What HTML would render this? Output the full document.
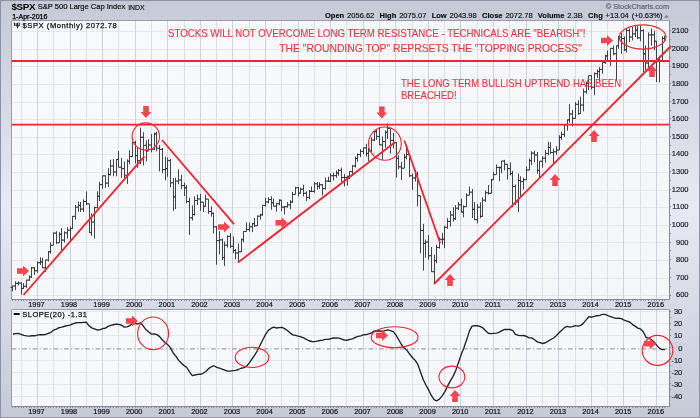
<!DOCTYPE html>
<html><head><meta charset="utf-8"><title>$SPX</title>
<style>
html,body{margin:0;padding:0;background:#ccd0dc;}
body{will-change:transform;width:700px;height:418px;overflow:hidden;position:relative;font-family:"Liberation Sans",sans-serif;color:#16161a;}
svg{position:absolute;left:0;top:0;}
div{position:absolute;white-space:nowrap;line-height:1;}
.yr{width:40px;text-align:center;font-size:7.4px;color:#15151a;-webkit-text-stroke:0.2px #15151a;}
.ax{left:655px;width:33.5px;text-align:right;font-size:7.5px;color:#15151a;-webkit-text-stroke:0.15px #15151a;}
.ax2{left:655px;width:27.3px;}
.t1{left:11.5px;top:2.1px;font-size:9.8px;font-weight:bold;color:#000;letter-spacing:-0.35px}
.t2{left:37.7px;top:3.1px;font-size:7.55px;color:#101014;-webkit-text-stroke:0.2px #101014;}
.t3{left:128.2px;top:4.5px;font-size:6.9px;color:#101014;-webkit-text-stroke:0.15px #101014;}
.t4{left:12.2px;top:13.1px;font-size:7.05px;color:#000;-webkit-text-stroke:0.25px #000;}
.hd{right:37.6px;top:11.75px;font-size:7.53px;color:#0c0c10;word-spacing:0.8px;-webkit-text-stroke:0.15px #0c0c10;}
.hd i{display:inline-block;width:5.3px;}
.hd b{font-weight:bold;}
.cp{left:605.7px;top:2.7px;font-size:7.35px;color:#62657a;-webkit-text-stroke:0.2px #62657a;}
.lg{left:22.6px;top:22.4px;font-size:7.6px;color:#111;letter-spacing:0.54px;-webkit-text-stroke:0.25px #111;}
.lg2{left:22.3px;top:311.2px;font-size:7.5px;color:#111;letter-spacing:0.5px;-webkit-text-stroke:0.25px #111;}
.r{color:#f4363f;font-size:10.33px;transform-origin:0 0;-webkit-text-stroke:0.12px #f4363f;}
</style></head><body>
<svg width="700" height="418" viewBox="0 0 700 418">
<defs>
<linearGradient id="bg" x1="0" y1="0" x2="0" y2="1"><stop offset="0" stop-color="#c6cad7"/><stop offset="0.5" stop-color="#e7eaf4"/><stop offset="1" stop-color="#c6cad7"/></linearGradient>
<linearGradient id="pbg" x1="0" y1="0" x2="1" y2="1"><stop offset="0" stop-color="#f8f9fc"/><stop offset="1" stop-color="#f5f6fa"/></linearGradient>
</defs>
<rect x="0" y="0" width="700" height="418" fill="url(#bg)"/>
<rect x="0.5" y="0.5" width="699" height="417" fill="none" stroke="#8e92a6" stroke-width="1"/>
<rect x="11.5" y="20.5" width="658" height="279" fill="url(#pbg)"/>
<rect x="11.5" y="309.5" width="658" height="97" fill="url(#pbg)"/>
<path d="M11.5 295.5H669.5M11.5 278.5H669.5M11.5 260.5H669.5M11.5 242.5H669.5M11.5 225.5H669.5M11.5 207.5H669.5M11.5 190.5H669.5M11.5 172.5H669.5M11.5 154.5H669.5M11.5 137.5H669.5M11.5 119.5H669.5M11.5 102.5H669.5M11.5 84.5H669.5M11.5 66.5H669.5M11.5 49.5H669.5M11.5 31.5H669.5M11.5 396.5H669.5M11.5 384.5H669.5M11.5 372.5H669.5M11.5 360.5H669.5M11.5 335.5H669.5M11.5 323.5H669.5M11.5 311.5H669.5" stroke="#e7e8ee" stroke-width="1" fill="none" shape-rendering="crispEdges"/>
<path d="M21.5 20.5V299.5M21.5 309.5V406.5M53.5 20.5V299.5M53.5 309.5V406.5M86.5 20.5V299.5M86.5 309.5V406.5M118.5 20.5V299.5M118.5 309.5V406.5M151.5 20.5V299.5M151.5 309.5V406.5M184.5 20.5V299.5M184.5 309.5V406.5M216.5 20.5V299.5M216.5 309.5V406.5M249.5 20.5V299.5M249.5 309.5V406.5M281.5 20.5V299.5M281.5 309.5V406.5M314.5 20.5V299.5M314.5 309.5V406.5M346.5 20.5V299.5M346.5 309.5V406.5M379.5 20.5V299.5M379.5 309.5V406.5M412.5 20.5V299.5M412.5 309.5V406.5M444.5 20.5V299.5M444.5 309.5V406.5M477.5 20.5V299.5M477.5 309.5V406.5M509.5 20.5V299.5M509.5 309.5V406.5M542.5 20.5V299.5M542.5 309.5V406.5M575.5 20.5V299.5M575.5 309.5V406.5M607.5 20.5V299.5M607.5 309.5V406.5M640.5 20.5V299.5M640.5 309.5V406.5" stroke="#dfe0e7" stroke-width="1" fill="none" shape-rendering="crispEdges"/>
<path d="M37.5 20.5V299.5M37.5 309.5V406.5M70.5 20.5V299.5M70.5 309.5V406.5M102.5 20.5V299.5M102.5 309.5V406.5M135.5 20.5V299.5M135.5 309.5V406.5M167.5 20.5V299.5M167.5 309.5V406.5M200.5 20.5V299.5M200.5 309.5V406.5M232.5 20.5V299.5M232.5 309.5V406.5M265.5 20.5V299.5M265.5 309.5V406.5M298.5 20.5V299.5M298.5 309.5V406.5M330.5 20.5V299.5M330.5 309.5V406.5M363.5 20.5V299.5M363.5 309.5V406.5M395.5 20.5V299.5M395.5 309.5V406.5M428.5 20.5V299.5M428.5 309.5V406.5M460.5 20.5V299.5M460.5 309.5V406.5M493.5 20.5V299.5M493.5 309.5V406.5M526.5 20.5V299.5M526.5 309.5V406.5M558.5 20.5V299.5M558.5 309.5V406.5M591.5 20.5V299.5M591.5 309.5V406.5M623.5 20.5V299.5M623.5 309.5V406.5M656.5 20.5V299.5M656.5 309.5V406.5" stroke="#d0d1da" stroke-width="1" fill="none" shape-rendering="crispEdges"/>
<path d="M11.5 348.9H669.5" stroke="#a4a4ac" stroke-width="1.15" stroke-dasharray="4.8 2.2 1.2 2.3" fill="none"/>
<path d="M11.5 299.5V20.5H669.5" stroke="#9b9ca8" stroke-width="1" fill="none"/>
<path d="M669.5 20.5V299.5H11.5" stroke="#868a9c" stroke-width="1" fill="none"/>
<path d="M11.5 406.5V309.5H669.5" stroke="#9b9ca8" stroke-width="1" fill="none"/>
<path d="M669.5 309.5V406.5H11.5" stroke="#868a9c" stroke-width="1" fill="none"/>
<path d="M12.5 300v1M15.5 300v1M18.5 300v1M21.5 300v1M23.5 300v1M26.5 300v1M29.5 300v1M31.5 300v1M34.5 300v1M37.5 300v1M40.5 300v1M42.5 300v1M45.5 300v1M48.5 300v1M50.5 300v1M53.5 300v1M56.5 300v1M59.5 300v1M61.5 300v1M64.5 300v1M67.5 300v1M70.5 300v1M72.5 300v1M75.5 300v1M78.5 300v1M80.5 300v1M83.5 300v1M86.5 300v1M89.5 300v1M91.5 300v1M94.5 300v1M97.5 300v1M99.5 300v1M102.5 300v1M105.5 300v1M108.5 300v1M110.5 300v1M113.5 300v1M116.5 300v1M118.5 300v1M121.5 300v1M124.5 300v1M127.5 300v1M129.5 300v1M132.5 300v1M135.5 300v1M137.5 300v1M140.5 300v1M143.5 300v1M146.5 300v1M148.5 300v1M151.5 300v1M154.5 300v1M156.5 300v1M159.5 300v1M162.5 300v1M165.5 300v1M167.5 300v1M170.5 300v1M173.5 300v1M175.5 300v1M178.5 300v1M181.5 300v1M184.5 300v1M186.5 300v1M189.5 300v1M192.5 300v1M194.5 300v1M197.5 300v1M200.5 300v1M203.5 300v1M205.5 300v1M208.5 300v1M211.5 300v1M213.5 300v1M216.5 300v1M219.5 300v1M222.5 300v1M224.5 300v1M227.5 300v1M230.5 300v1M233.5 300v1M235.5 300v1M238.5 300v1M241.5 300v1M243.5 300v1M246.5 300v1M249.5 300v1M252.5 300v1M254.5 300v1M257.5 300v1M260.5 300v1M262.5 300v1M265.5 300v1M268.5 300v1M271.5 300v1M273.5 300v1M276.5 300v1M279.5 300v1M281.5 300v1M284.5 300v1M287.5 300v1M290.5 300v1M292.5 300v1M295.5 300v1M298.5 300v1M300.5 300v1M303.5 300v1M306.5 300v1M309.5 300v1M311.5 300v1M314.5 300v1M317.5 300v1M319.5 300v1M322.5 300v1M325.5 300v1M328.5 300v1M330.5 300v1M333.5 300v1M336.5 300v1M338.5 300v1M341.5 300v1M344.5 300v1M347.5 300v1M349.5 300v1M352.5 300v1M355.5 300v1M357.5 300v1M360.5 300v1M363.5 300v1M366.5 300v1M368.5 300v1M371.5 300v1M374.5 300v1M376.5 300v1M379.5 300v1M382.5 300v1M385.5 300v1M387.5 300v1M390.5 300v1M393.5 300v1M396.5 300v1M398.5 300v1M401.5 300v1M404.5 300v1M406.5 300v1M409.5 300v1M412.5 300v1M415.5 300v1M417.5 300v1M420.5 300v1M423.5 300v1M425.5 300v1M428.5 300v1M431.5 300v1M434.5 300v1M436.5 300v1M439.5 300v1M442.5 300v1M444.5 300v1M447.5 300v1M450.5 300v1M453.5 300v1M455.5 300v1M458.5 300v1M461.5 300v1M463.5 300v1M466.5 300v1M469.5 300v1M472.5 300v1M474.5 300v1M477.5 300v1M480.5 300v1M482.5 300v1M485.5 300v1M488.5 300v1M491.5 300v1M493.5 300v1M496.5 300v1M499.5 300v1M501.5 300v1M504.5 300v1M507.5 300v1M510.5 300v1M512.5 300v1M515.5 300v1M518.5 300v1M520.5 300v1M523.5 300v1M526.5 300v1M529.5 300v1M531.5 300v1M534.5 300v1M537.5 300v1M539.5 300v1M542.5 300v1M545.5 300v1M548.5 300v1M550.5 300v1M553.5 300v1M556.5 300v1M559.5 300v1M561.5 300v1M564.5 300v1M567.5 300v1M569.5 300v1M572.5 300v1M575.5 300v1M578.5 300v1M580.5 300v1M583.5 300v1M586.5 300v1M588.5 300v1M591.5 300v1M594.5 300v1M597.5 300v1M599.5 300v1M602.5 300v1M605.5 300v1M607.5 300v1M610.5 300v1M613.5 300v1M616.5 300v1M618.5 300v1M621.5 300v1M624.5 300v1M626.5 300v1M629.5 300v1M632.5 300v1M635.5 300v1M637.5 300v1M640.5 300v1M643.5 300v1M645.5 300v1M648.5 300v1M651.5 300v1M654.5 300v1M656.5 300v1M659.5 300v1M662.5 300v1M664.5 300v1M12.5 407v1M15.5 407v1M18.5 407v1M21.5 407v1M23.5 407v1M26.5 407v1M29.5 407v1M31.5 407v1M34.5 407v1M37.5 407v1M40.5 407v1M42.5 407v1M45.5 407v1M48.5 407v1M50.5 407v1M53.5 407v1M56.5 407v1M59.5 407v1M61.5 407v1M64.5 407v1M67.5 407v1M70.5 407v1M72.5 407v1M75.5 407v1M78.5 407v1M80.5 407v1M83.5 407v1M86.5 407v1M89.5 407v1M91.5 407v1M94.5 407v1M97.5 407v1M99.5 407v1M102.5 407v1M105.5 407v1M108.5 407v1M110.5 407v1M113.5 407v1M116.5 407v1M118.5 407v1M121.5 407v1M124.5 407v1M127.5 407v1M129.5 407v1M132.5 407v1M135.5 407v1M137.5 407v1M140.5 407v1M143.5 407v1M146.5 407v1M148.5 407v1M151.5 407v1M154.5 407v1M156.5 407v1M159.5 407v1M162.5 407v1M165.5 407v1M167.5 407v1M170.5 407v1M173.5 407v1M175.5 407v1M178.5 407v1M181.5 407v1M184.5 407v1M186.5 407v1M189.5 407v1M192.5 407v1M194.5 407v1M197.5 407v1M200.5 407v1M203.5 407v1M205.5 407v1M208.5 407v1M211.5 407v1M213.5 407v1M216.5 407v1M219.5 407v1M222.5 407v1M224.5 407v1M227.5 407v1M230.5 407v1M233.5 407v1M235.5 407v1M238.5 407v1M241.5 407v1M243.5 407v1M246.5 407v1M249.5 407v1M252.5 407v1M254.5 407v1M257.5 407v1M260.5 407v1M262.5 407v1M265.5 407v1M268.5 407v1M271.5 407v1M273.5 407v1M276.5 407v1M279.5 407v1M281.5 407v1M284.5 407v1M287.5 407v1M290.5 407v1M292.5 407v1M295.5 407v1M298.5 407v1M300.5 407v1M303.5 407v1M306.5 407v1M309.5 407v1M311.5 407v1M314.5 407v1M317.5 407v1M319.5 407v1M322.5 407v1M325.5 407v1M328.5 407v1M330.5 407v1M333.5 407v1M336.5 407v1M338.5 407v1M341.5 407v1M344.5 407v1M347.5 407v1M349.5 407v1M352.5 407v1M355.5 407v1M357.5 407v1M360.5 407v1M363.5 407v1M366.5 407v1M368.5 407v1M371.5 407v1M374.5 407v1M376.5 407v1M379.5 407v1M382.5 407v1M385.5 407v1M387.5 407v1M390.5 407v1M393.5 407v1M396.5 407v1M398.5 407v1M401.5 407v1M404.5 407v1M406.5 407v1M409.5 407v1M412.5 407v1M415.5 407v1M417.5 407v1M420.5 407v1M423.5 407v1M425.5 407v1M428.5 407v1M431.5 407v1M434.5 407v1M436.5 407v1M439.5 407v1M442.5 407v1M444.5 407v1M447.5 407v1M450.5 407v1M453.5 407v1M455.5 407v1M458.5 407v1M461.5 407v1M463.5 407v1M466.5 407v1M469.5 407v1M472.5 407v1M474.5 407v1M477.5 407v1M480.5 407v1M482.5 407v1M485.5 407v1M488.5 407v1M491.5 407v1M493.5 407v1M496.5 407v1M499.5 407v1M501.5 407v1M504.5 407v1M507.5 407v1M510.5 407v1M512.5 407v1M515.5 407v1M518.5 407v1M520.5 407v1M523.5 407v1M526.5 407v1M529.5 407v1M531.5 407v1M534.5 407v1M537.5 407v1M539.5 407v1M542.5 407v1M545.5 407v1M548.5 407v1M550.5 407v1M553.5 407v1M556.5 407v1M559.5 407v1M561.5 407v1M564.5 407v1M567.5 407v1M569.5 407v1M572.5 407v1M575.5 407v1M578.5 407v1M580.5 407v1M583.5 407v1M586.5 407v1M588.5 407v1M591.5 407v1M594.5 407v1M597.5 407v1M599.5 407v1M602.5 407v1M605.5 407v1M607.5 407v1M610.5 407v1M613.5 407v1M616.5 407v1M618.5 407v1M621.5 407v1M624.5 407v1M626.5 407v1M629.5 407v1M632.5 407v1M635.5 407v1M637.5 407v1M640.5 407v1M643.5 407v1M645.5 407v1M648.5 407v1M651.5 407v1M654.5 407v1M656.5 407v1M659.5 407v1M662.5 407v1M664.5 407v1M670 295.5h1.4M670 286.5h0.8M670 277.5h1.4M670 268.5h0.8M670 259.5h1.4M670 250.5h0.8M670 242.5h1.4M670 233.5h0.8M670 224.5h1.4M670 215.5h0.8M670 206.5h1.4M670 198.5h0.8M670 189.5h1.4M670 180.5h0.8M670 171.5h1.4M670 162.5h0.8M670 154.5h1.4M670 145.5h0.8M670 136.5h1.4M670 127.5h0.8M670 118.5h1.4M670 110.5h0.8M670 101.5h1.4M670 92.5h0.8M670 83.5h1.4M670 74.5h0.8M670 66.5h1.4M670 57.5h0.8M670 48.5h1.4M670 39.5h0.8M670 30.5h1.4M670 396.5h1.4M670 389.5h0.8M670 383.5h1.4M670 377.5h0.8M670 371.5h1.4M670 365.5h0.8M670 359.5h1.4M670 353.5h0.8M670 347.5h1.4M670 341.5h0.8M670 335.5h1.4M670 329.5h0.8M670 323.5h1.4M670 317.5h0.8M670 311.5h1.4" stroke="#8a8c9a" stroke-width="1" fill="none" shape-rendering="crispEdges"/>
<path d="M12.5 285.64V291.27M12.5 287.49h-2M12.5 285.96h2M15.5 281.24V290.22M15.5 285.96h-2M15.5 283.33h2M18.5 281.41V285.29M18.5 283.33h-2M18.5 283.06h2M21.5 282.29V294.62M21.5 283.06h-2M21.5 288.46h2M23.5 283V288.46M23.5 288.46h-2M23.5 286.34h2M26.5 279.65V287.93M26.5 286.34h-2M26.5 280.12h2M29.5 275.42V280.71M29.5 280.12h-2M29.5 276.96h2M31.5 266.97V277.71M31.5 276.96h-2M31.5 267.85h2M34.5 267.15V275.07M34.5 267.85h-2M34.5 270.72h2M37.5 261.34V272.78M37.5 270.72h-2M37.5 262.72h2M40.5 257.29V265.03M40.5 262.72h-2M40.5 261.9h2M42.5 257.81V268.03M42.5 261.9h-2M42.5 267.83h2M45.5 259.58V272.08M45.5 267.83h-2M45.5 260.04h2M48.5 251.12V261.34M48.5 260.04h-2M48.5 251.78h2M50.5 242.32V253.59M50.5 251.78h-2M50.5 245.29h2M53.5 232.46V245.31M53.5 245.29h-2M53.5 233.11h2M56.5 231.22V243.9M56.5 233.11h-2M56.5 242.76h2M59.5 232.1V242.85M59.5 242.76h-2M59.5 234.34h2M61.5 228.05V250.59M61.5 234.34h-2M61.5 240.1h2M64.5 231.22V242.67M64.5 240.1h-2M64.5 232.91h2M67.5 227.35V238.44M67.5 232.91h-2M67.5 230.27h2M70.5 226.29V240.56M70.5 230.27h-2M70.5 228.53h2M72.5 216.08V228.58M72.5 228.53h-2M72.5 216.37h2M75.5 204.98V219.6M75.5 216.37h-2M75.5 207.14h2M78.5 201.64V211.68M78.5 207.14h-2M78.5 205.38h2M80.5 201.99V212.03M80.5 205.38h-2M80.5 209.07h2M83.5 199.35V212.03M83.5 209.07h-2M83.5 201.49h2M86.5 191.42V204.98M86.5 201.49h-2M86.5 203.81h2M89.5 203.75V232.63M89.5 203.81h-2M89.5 232.58h2M91.5 213.44V235.8M91.5 232.58h-2M91.5 222.06h2M94.5 206.75V238.62M94.5 222.06h-2M94.5 207.68h2M97.5 191.25V207.8M97.5 207.68h-2M97.5 196.24h2M99.5 181.92V201.11M99.5 196.24h-2M99.5 184.69h2M102.5 175.75V188.96M102.5 184.69h-2M102.5 175.82h2M105.5 175.22V187.9M105.5 175.82h-2M105.5 183.09h2M108.5 168.18V187.02M108.5 183.09h-2M108.5 174.63h2M110.5 159.73V175.4M110.5 174.63h-2M110.5 166.03h2M113.5 159.02V176.28M113.5 166.03h-2M113.5 171.91h2M116.5 159.37V176.28M116.5 171.91h-2M116.5 159.43h2M118.5 151.1V167.3M118.5 159.43h-2M118.5 167.17h2M121.5 157.79V178.04M121.5 167.17h-2M121.5 168.64h2M124.5 161.49V179.98M124.5 168.64h-2M124.5 175.27h2M127.5 159.37V183.85M127.5 175.27h-2M127.5 161.15h2M129.5 150.22V164.13M129.5 161.15h-2M129.5 156.57h2M132.5 141.76V156.91M132.5 156.57h-2M132.5 142.43h2M135.5 140.88V163.42M135.5 142.43h-2M135.5 155.6h2M137.5 146.87V167.83M137.5 155.6h-2M137.5 160.53h2M140.5 127.68V164.13M140.5 160.53h-2M140.5 137.26h2M143.5 132.26V165.36M143.5 137.26h-2M143.5 145.39h2M146.5 140.36V161.49M146.5 145.39h-2M146.5 150.99h2M148.5 139.12V151.1M148.5 150.99h-2M148.5 145h2M151.5 134.02V152.33M151.5 145h-2M151.5 149.19h2M154.5 132.61V150.22M154.5 149.19h-2M154.5 133.9h2M156.5 131.73V151.27M156.5 133.9h-2M156.5 148.19h2M159.5 145.11V171.35M159.5 148.19h-2M159.5 149.44h2M162.5 147.93V173.29M162.5 149.44h-2M162.5 169.6h2M165.5 156.56V180.33M165.5 169.6h-2M165.5 168.66h2M167.5 157.61V176.81M167.5 168.66h-2M167.5 160.61h2M170.5 158.85V187.2M170.5 160.61h-2M170.5 182.81h2M173.5 178.04V210.8M173.5 182.81h-2M173.5 196.83h2M175.5 177.69V209.03M175.5 196.83h-2M175.5 181.13h2M178.5 169.41V184.2M178.5 181.13h-2M178.5 180.01h2M181.5 174.7V189.31M181.5 180.01h-2M181.5 185.55h2M184.5 182.8V196M184.5 185.55h-2M184.5 187.86h2M186.5 185.26V203.22M186.5 187.86h-2M186.5 201.54h2M189.5 197.76V234.92M189.5 201.54h-2M189.5 217.85h2M192.5 205.51V220.48M192.5 217.85h-2M192.5 214.53h2M194.5 196.36V215.55M194.5 214.53h-2M194.5 200.5h2M197.5 194.59V204.98M197.5 200.5h-2M197.5 198.98h2M200.5 194.07V210.8M200.5 198.98h-2M200.5 202.13h2M203.5 202.13V212.03M203.5 202.13h-2M203.5 206.26h2M205.5 194.59V206.39M205.5 206.26h-2M205.5 199.1h2M208.5 199.1V213.97M208.5 199.1h-2M208.5 211.51h2M211.5 206.39V216.61M211.5 211.51h-2M211.5 213.24h2M213.5 212.73V233.51M213.5 213.24h-2M213.5 226.85h2M216.5 226.12V264.68M216.5 226.85h-2M216.5 240.62h2M219.5 231.22V254.47M219.5 240.62h-2M219.5 239.84h2M222.5 238.44V260.28M222.5 239.84h-2M222.5 257.59h2M224.5 241.44V265.92M224.5 257.59h-2M224.5 245.18h2M227.5 235.45V247.6M227.5 245.18h-2M227.5 236.28h2M230.5 233.16V248.13M230.5 236.28h-2M230.5 246.22h2M233.5 236.51V253.24M233.5 246.22h-2M233.5 250.47h2M235.5 249.01V259.22M235.5 250.47h-2M235.5 253.03h2M238.5 243.55V262.39M238.5 253.03h-2M238.5 251.8h2M241.5 238.44V252M241.5 251.8h-2M241.5 239.69h2M243.5 231.22V242.32M243.5 239.69h-2M243.5 231.47h2M246.5 222.42V231.58M246.5 231.47h-2M246.5 229.55h2M249.5 222.42V231.75M249.5 229.55h-2M249.5 226.77h2M252.5 223.12V232.1M252.5 226.77h-2M252.5 223.65h2M254.5 218.02V226.82M254.5 223.65h-2M254.5 225.77h2M257.5 215.55V225.94M257.5 225.77h-2M257.5 216.13h2M260.5 213.79V219.6M260.5 216.13h-2M260.5 214.81h2M262.5 205.34V215.73M262.5 214.81h-2M262.5 205.35h2M265.5 197.76V206.57M265.5 205.35h-2M265.5 201.97h2M268.5 197.24V203.22M268.5 201.97h-2M268.5 199.54h2M271.5 196.36V209.74M271.5 199.54h-2M271.5 202.83h2M273.5 198.64V206.22M273.5 202.83h-2M273.5 206.16h2M276.5 202.7V211.68M276.5 206.16h-2M276.5 203.81h2M279.5 199.35V205.16M279.5 203.81h-2M279.5 200.26h2M281.5 200.23V211.32M281.5 200.26h-2M281.5 207.15h2M284.5 205.87V214.49M284.5 207.15h-2M284.5 206.7h2M287.5 201.99V207.63M287.5 206.7h-2M287.5 204.88h2M290.5 200.05V209.21M290.5 204.88h-2M290.5 202.13h2M292.5 191.95V202.7M292.5 202.13h-2M292.5 194.45h2M295.5 186.85V194.59M295.5 194.45h-2M295.5 187.74h2M298.5 186.85V196.36M298.5 187.74h-2M298.5 193.14h2M300.5 187.73V193.36M300.5 193.14h-2M300.5 189.21h2M303.5 184.73V196.36M303.5 189.21h-2M303.5 193.26h2M306.5 191.42V201.11M306.5 193.26h-2M306.5 197.44h2M309.5 190.02V199.35M309.5 197.44h-2M309.5 191.34h2M311.5 186.49V191.95M311.5 191.34h-2M311.5 191.37h2M314.5 181.92V192.83M314.5 191.37h-2M314.5 183.82h2M317.5 181.92V189.66M317.5 183.82h-2M317.5 186.26h2M319.5 182.27V188.96M319.5 186.26h-2M319.5 184.77h2M322.5 184.03V195.48M322.5 184.77h-2M322.5 188.61h2M325.5 177.51V189.66M325.5 188.61h-2M325.5 181.13h2M328.5 176.63V181.74M328.5 181.13h-2M328.5 181.34h2M330.5 173.29V181.92M330.5 181.34h-2M330.5 175.74h2M333.5 172.76V180.51M333.5 175.74h-2M333.5 175.64h2M336.5 170.47V177.87M336.5 175.64h-2M336.5 173.13h2M338.5 169.06V175.75M338.5 173.13h-2M338.5 170.36h2M341.5 167.65V181.92M341.5 170.36h-2M341.5 177.5h2M344.5 173.99V186.49M344.5 177.5h-2M344.5 177.48h2M347.5 175.75V185.61M347.5 177.48h-2M347.5 176.34h2M349.5 171.17V179.1M349.5 176.34h-2M349.5 171.56h2M352.5 165.19V173.99M352.5 171.56h-2M352.5 165.92h2M355.5 156.56V167.48M355.5 165.92h-2M355.5 158.5h2M357.5 153.39V161.66M357.5 158.5h-2M357.5 154.51h2M360.5 149.16V157.26M360.5 154.51h-2M360.5 151.4h2M363.5 147.4V154.09M363.5 151.4h-2M363.5 147.89h2M366.5 143.88V156.56M366.5 147.89h-2M366.5 153.42h2M368.5 147.93V161.14M368.5 153.42h-2M368.5 150.95h2M371.5 137.36V151.8M371.5 150.95h-2M371.5 140.11h2M374.5 130.85V141.24M374.5 140.11h-2M374.5 131.62h2M376.5 129.97V139.83M376.5 131.62h-2M376.5 136.42h2M379.5 127.32V145.11M379.5 136.42h-2M379.5 144.89h2M382.5 136.48V159.9M382.5 144.89h-2M382.5 141.59h2M385.5 130.32V147.75M385.5 141.59h-2M385.5 132.3h2M387.5 123.63V138.95M387.5 132.3h-2M387.5 128.31h2M390.5 128.31V153.56M390.5 128.31h-2M390.5 140.33h2M393.5 132.96V148.46M393.5 140.33h-2M393.5 142.58h2M396.5 142.12V177.51M396.5 142.58h-2M396.5 158.4h2M398.5 155.32V169.41M398.5 158.4h-2M398.5 166.84h2M401.5 161.84V179.98M401.5 166.84h-2M401.5 168.23h2M404.5 153.92V168.23M404.5 168.23h-2M404.5 157.16h2M406.5 147.58V159.37M406.5 157.16h-2M406.5 154.55h2M409.5 153.92V177.16M409.5 154.55h-2M409.5 175.75h2M412.5 173.64V189.84M412.5 175.75h-2M412.5 177.97h2M415.5 169.94V181.56M415.5 177.97h-2M415.5 175.25h2M417.5 171.7V206.39M417.5 175.25h-2M417.5 195.76h2M420.5 195.65V253.41M420.5 195.76h-2M420.5 230.56h2M423.5 223.83V270.67M423.5 230.56h-2M423.5 243.33h2M425.5 239.5V257.64M425.5 243.33h-2M425.5 242.1h2M428.5 235.1V259.58M428.5 242.1h-2M428.5 255.72h2M431.5 247.07V271.9M431.5 255.72h-2M431.5 271.71h2M434.5 254.64V283.88M434.5 271.71h-2M434.5 260.66h2M436.5 244.78V263.27M436.5 260.66h-2M436.5 247.46h2M439.5 237.39V248.66M439.5 247.46h-2M439.5 239.3h2M442.5 232.81V244.78M442.5 239.3h-2M442.5 239.27h2M444.5 225.76V248.13M444.5 239.27h-2M444.5 227.26h2M447.5 218.19V228.93M447.5 227.26h-2M447.5 221.43h2M450.5 210.97V226.64M450.5 221.43h-2M450.5 215.01h2M453.5 207.27V221.71M453.5 215.01h-2M453.5 218.69h2M455.5 205.16V219.95M455.5 218.69h-2M455.5 208.22h2M458.5 202.17V210.09M458.5 208.22h-2M458.5 204.79h2M461.5 198.64V212.56M461.5 204.79h-2M461.5 212.05h2M463.5 205.34V217.31M463.5 212.05h-2M463.5 206.66h2M466.5 193.36V206.66M466.5 206.66h-2M466.5 195.22h2M469.5 186.49V195.22M469.5 195.22h-2M469.5 192.18h2M472.5 188.96V218.02M472.5 192.18h-2M472.5 209.31h2M474.5 201.99V220.13M474.5 209.31h-2M474.5 219.65h2M477.5 203.93V223.3M477.5 219.65h-2M477.5 207.17h2M480.5 202.34V218.19M480.5 207.17h-2M480.5 216.37h2M482.5 197.41V216.43M482.5 216.37h-2M482.5 200.19h2M485.5 190.54V201.99M485.5 200.19h-2M485.5 192.79h2M488.5 185.09V194.59M488.5 192.79h-2M488.5 193.27h2M491.5 178.92V193.27M491.5 193.27h-2M491.5 179.69h2M493.5 171.7V179.8M493.5 179.69h-2M493.5 174.67h2M496.5 164.48V174.67M496.5 174.67h-2M496.5 167.44h2M499.5 166.59V181.21M499.5 167.44h-2M499.5 167.68h2M501.5 160.96V173.29M501.5 167.68h-2M501.5 161.03h2M504.5 159.9V170.29M504.5 161.03h-2M504.5 164.27h2M507.5 164.27V179.63M507.5 164.27h-2M507.5 168.6h2M510.5 162.37V175.4M510.5 168.6h-2M510.5 173.59h2M512.5 171V207.27M512.5 173.59h-2M512.5 186.51h2M515.5 184.56V204.98M515.5 186.51h-2M515.5 201.92h2M518.5 173.64V212.03M518.5 201.92h-2M518.5 180.45h2M520.5 176.28V197.24M520.5 180.45h-2M520.5 181.57h2M523.5 177.69V189.49M523.5 181.57h-2M523.5 179.7h2M526.5 166.42V179.7M526.5 179.7h-2M526.5 170.04h2M529.5 158.49V170.12M529.5 170.04h-2M529.5 160.66h2M531.5 151.27V165.19M531.5 160.66h-2M531.5 153.13h2M534.5 150.75V162.19M534.5 153.13h-2M534.5 154.99h2M537.5 151.98V173.81M537.5 154.99h-2M537.5 170.41h2M539.5 161.14V178.22M539.5 170.41h-2M539.5 161.28h2M542.5 156.2V167.83M542.5 161.28h-2M542.5 158.26h2M545.5 150.04V162.72M545.5 158.26h-2M545.5 153.46h2M548.5 141.59V155.32M548.5 153.46h-2M548.5 147.46h2M550.5 142.29V154.09M550.5 147.46h-2M550.5 152.48h2M553.5 148.63V164.66M553.5 152.48h-2M553.5 151.77h2M556.5 146.17V154.97M556.5 151.77h-2M556.5 150.01h2M559.5 135.25V150.04M559.5 150.01h-2M559.5 137.34h2M561.5 131.55V139.65M561.5 137.34h-2M561.5 134.42h2M564.5 124.68V136.83M564.5 134.42h-2M564.5 124.83h2M567.5 119.75V130.67M567.5 124.83h-2M567.5 119.83h2M569.5 104.08V122.75M569.5 119.83h-2M569.5 113.99h2M572.5 109.89V126.44M572.5 113.99h-2M572.5 118.29h2M575.5 102.14V118.7M575.5 118.29h-2M575.5 104.3h2M578.5 100.21V114.65M578.5 104.3h-2M578.5 113.59h2M580.5 96.68V113.59M580.5 113.59h-2M580.5 105.04h2M583.5 88.58V111.3M583.5 105.04h-2M583.5 91.83h2M586.5 81.89V93.69M586.5 91.83h-2M586.5 83.16h2M588.5 75.55V89.99M588.5 83.16h-2M588.5 75.66h2M591.5 75.38V89.46M591.5 75.66h-2M591.5 87.25h2M594.5 72.38V95.27M594.5 87.25h-2M594.5 73.71h2M597.5 69.56V78.19M597.5 73.71h-2M597.5 71.44h2M599.5 67.1V81.71M599.5 71.44h-2M599.5 69.4h2M602.5 62.34V73.79M602.5 69.4h-2M602.5 62.42h2M605.5 54.6V63.93M605.5 62.42h-2M605.5 55.96h2M607.5 50.54V61.29M607.5 55.96h-2M607.5 61.17h2M610.5 48.08V65.87M610.5 61.17h-2M610.5 48.37h2M613.5 45.61V55.3M613.5 48.37h-2M613.5 53.84h2M616.5 45.78V80.66M616.5 53.84h-2M616.5 45.78h2M618.5 35.75V48.78M618.5 45.78h-2M618.5 37.06h2M621.5 32.58V53.89M621.5 37.06h-2M621.5 38.59h2M624.5 36.28V51.07M624.5 38.59h-2M624.5 49.84h2M626.5 28V52.48M626.5 49.84h-2M626.5 30.56h2M629.5 28.36V42.09M629.5 30.56h-2M629.5 37h2M632.5 26.95V40.51M632.5 37h-2M632.5 33.9h2M635.5 25.36V37.16M635.5 33.9h-2M635.5 30.05h2M637.5 26.24V39.1M637.5 30.05h-2M637.5 37.85h2M640.5 25.71V41.21M640.5 37.85h-2M640.5 30.67h2M643.5 29.24V72.38M643.5 30.67h-2M643.5 53.86h2M645.5 45.44V71.68M645.5 53.86h-2M645.5 63.04h2M648.5 32.41V67.8M648.5 63.04h-2M648.5 34.98h2M651.5 28.53V45.61M651.5 34.98h-2M651.5 34.8h2M654.5 30.65V50.19M654.5 34.8h-2M654.5 41.22h2M656.5 41.22V82.07M656.5 41.22h-2M656.5 59.48h2M659.5 55.65V82.42M659.5 59.48h-2M659.5 60.89h2M662.5 36.28V60.89M662.5 60.89h-2M662.5 38.44h2M664.5 35.75V41.21M664.5 38.44h-2M664.5 36.14h2" stroke="#2b2b30" stroke-width="1" fill="none" stroke-opacity="0.88"/>
<path d="M12.95 333.98L15.67 333.56L18.38 333.31L21.1 334.31L23.82 335.34L26.53 335.89L29.25 336.2L31.97 335.75L34.68 335.79L37.4 335.09L40.12 334.56L42.83 334.73L45.55 334.49L48.27 333.44L50.98 332.29L53.7 330.04L56.42 329.17L59.13 327.6L61.85 327.09L64.57 326.27L67.28 325.59L70 325.04L72.72 323.82L75.43 322.97L78.15 322.56L80.87 322.68L83.58 322.44L86.3 322.23L89.02 325.82L91.73 327.9L94.45 328.9L97.17 329.98L99.88 329.81L102.6 328.65L105.32 328.29L108.03 326.42L110.75 325.35L113.47 324.75L116.18 324.18L118.9 324.44L121.62 325.23L124.33 327.13L127.05 326.86L129.77 325.71L132.48 323.5L135.2 323.64L137.92 324L140.63 322.74L143.35 326.1L146.07 329.78L148.78 332.04L151.5 334.11L154.22 333.91L156.93 334.67L159.65 336.64L162.37 340.02L165.08 342.43L167.8 344.65L170.52 347.82L173.23 352.97L175.95 356.42L178.67 360.36L181.38 363.26L184.1 365.63L186.82 367.49L189.53 371.77L192.25 375.62L194.97 375L197.68 374.45L200.4 374.27L203.12 373.31L205.83 371.47L208.55 368.67L211.27 366.79L213.98 365.72L216.7 367.39L219.42 368.14L222.13 369.03L224.85 370.11L227.57 371.19L230.28 371.13L233 370.69L235.72 370.38L238.43 369.5L241.15 368.25L243.87 367.58L246.58 366.21L249.3 362.88L252.02 358.81L254.73 355.04L257.45 350.52L260.17 344.99L262.88 339.72L265.6 334.36L268.32 330.36L271.03 328.47L273.75 327.22L276.47 328.01L279.18 327.66L281.9 327.49L284.62 328.66L287.33 330.52L290.05 332.86L292.77 334.84L295.48 335.43L298.2 336.2L300.92 336.77L303.63 337.85L306.35 339.35L309.07 340.76L311.78 341.48L314.5 341.56L317.22 341.18L319.93 340.48L322.65 340.07L325.37 339.4L328.08 339.33L330.8 338.72L333.52 338L336.23 338.04L338.95 338.11L341.67 339.06L344.38 339.99L347.1 340.23L349.82 339.46L352.53 338.89L355.25 337.44L357.97 336.36L360.68 335.83L363.4 334.76L366.12 334.69L368.83 333.96L371.55 332.76L374.27 331.04L376.98 330.76L379.7 331.04L382.42 331.4L385.13 330.65L387.85 329.94L390.57 330.63L393.28 331.58L396 335.16L398.72 339.76L401.43 344.49L404.15 347.69L406.87 350.16L409.58 354.04L412.3 357.52L415.02 360.15L417.73 364.18L420.45 371.73L423.17 379.48L425.88 384.96L428.6 389.81L431.32 395.46L434.03 399.55L436.75 400.78L439.47 399.09L442.18 395.86L444.9 391.61L447.62 386.12L450.33 380.91L453.05 376.39L455.77 370.45L458.48 362.56L461.2 354.6L463.92 347.82L466.63 339.84L469.35 331.09L472.07 326.08L474.78 325.73L477.5 325.66L480.22 326.73L482.93 327.97L485.65 330.78L488.37 333.26L491.08 333.67L493.8 333.39L496.52 333.07L499.23 332.21L501.95 330.68L504.67 329.4L507.38 329.47L510.1 329.41L512.82 330.6L515.53 334.3L518.25 335.4L520.97 335.63L523.68 335.5L526.4 336.4L529.12 337.91L531.83 337.94L534.55 339.71L537.27 341.87L539.98 342.64L542.7 343.49L545.42 342.75L548.13 341.15L550.85 339.53L553.57 338.03L556.28 335.79L559 332.78L561.72 330.22L564.43 327.62L567.15 326.44L569.87 327.05L572.58 326.66L575.3 325.66L578.02 326.17L580.73 325.47L583.45 323.13L586.17 319.82L588.88 316.71L591.6 317.23L594.32 316.3L597.03 315.71L599.75 315.31L602.47 314.43L605.18 314.35L607.9 315.7L610.62 316.54L613.33 317.59L616.05 318.4L618.77 318.22L621.48 318.56L624.2 320.21L626.92 321.1L629.63 322.01L632.35 324.32L635.07 326.15L637.78 328.09L640.5 328.93L643.22 331.79L645.93 337.04L648.65 338.3L651.37 339.7L654.08 341.89L656.8 345.41L659.52 348.4L662.23 349.69L664.95 349.59" stroke="#222226" stroke-width="1.35" fill="none" stroke-linejoin="round"/>
<path d="M11.5 61H669.5 M11.5 124.6H669.5" stroke="#f7222e" stroke-width="1.8" fill="none"/>
<path d="M23.5 295L144.4 156.4M162 140L234 224.2M238 262.5L395 142.3M404.4 140.5L440.2 243M434 284L671 46" stroke="#f7222e" stroke-width="1.8" fill="none" stroke-linecap="butt"/>
<ellipse cx="145.8" cy="136.5" rx="13.7" ry="13.6" stroke="#f7222e" stroke-width="1.1" fill="none"/>
<ellipse cx="384.9" cy="143.6" rx="16.4" ry="16.6" stroke="#f7222e" stroke-width="1.1" fill="none"/>
<ellipse cx="642.6" cy="37" rx="23.4" ry="12.1" stroke="#f7222e" stroke-width="1.1" fill="none"/>
<ellipse cx="153.1" cy="333.4" rx="15.5" ry="16.4" stroke="#f7222e" stroke-width="1.1" fill="none"/>
<ellipse cx="252" cy="357.4" rx="16.8" ry="10.1" stroke="#f7222e" stroke-width="1.1" fill="none"/>
<ellipse cx="394.6" cy="337.2" rx="23.4" ry="10.5" stroke="#f7222e" stroke-width="1.1" fill="none"/>
<ellipse cx="451.9" cy="377" rx="12.9" ry="10.9" stroke="#f7222e" stroke-width="1.1" fill="none"/>
<ellipse cx="657.5" cy="350.4" rx="15.3" ry="15" stroke="#f7222e" stroke-width="1.1" fill="none"/>
<polygon points="17,268.19 23,268.19 23,265.6 29,271 23,276.4 23,273.81 17,273.81" fill="#f5454e"/>
<polygon points="148.81,106 148.81,112 151.4,112 146,118 140.6,112 143.19,112 143.19,106" fill="#f5454e"/>
<polygon points="218,224.19 224,224.19 224,221.6 230,227 224,232.4 224,229.81 218,229.81" fill="#f5454e"/>
<polygon points="275.5,219.99 281.5,219.99 281.5,217.4 287.5,222.8 281.5,228.2 281.5,225.61 275.5,225.61" fill="#f5454e"/>
<polygon points="384.61,106.4 384.61,112.4 387.2,112.4 381.8,118.4 376.4,112.4 378.99,112.4 378.99,106.4" fill="#f5454e"/>
<polygon points="447.19,286 447.19,280 444.6,280 450,274 455.4,280 452.81,280 452.81,286" fill="#f5454e"/>
<polygon points="552.19,186 552.19,180 549.6,180 555,174 560.4,180 557.81,180 557.81,186" fill="#f5454e"/>
<polygon points="591.19,142 591.19,136 588.6,136 594,130 599.4,136 596.81,136 596.81,142" fill="#f5454e"/>
<polygon points="601,37.69 607,37.69 607,35.1 613,40.5 607,45.9 607,43.31 601,43.31" fill="#f5454e"/>
<polygon points="649.19,77 649.19,71 646.6,71 652,65 657.4,71 654.81,71 654.81,77" fill="#f5454e"/>
<polygon points="126,318.19 132,318.19 132,315.6 138,321 132,326.4 132,323.81 126,323.81" fill="#f5454e"/>
<polygon points="376,332.69 382,332.69 382,330.1 388,335.5 382,340.9 382,338.31 376,338.31" fill="#f5454e"/>
<polygon points="452.19,402.1 452.19,396.1 449.6,396.1 455,390.1 460.4,396.1 457.81,396.1 457.81,402.1" fill="#f5454e"/>
<polygon points="644,340.99 650,340.99 650,338.4 656,343.8 650,349.2 650,346.61 644,346.61" fill="#f5454e"/>
<path d="M13.6 23h1v3M16.2 23.2v2.8h1.4M17.6 22.6v5.6M19.2 22.6v3.4h-1.6" stroke="#1a1a1e" stroke-width="1" fill="none"/>
<rect x="13.7" y="313" width="6" height="2" fill="#111"/>
<polygon points="664,17.8 669,17.8 666.5,14.8" fill="#7d8090"/>
</svg>
<div class="t1">$SPX</div><div class="t2">S&amp;P 500 Large Cap Index</div><div class="t3">INDX</div>
<div class="t4">1-Apr-2016</div>
<div class="hd"><b>Open</b> 2056.62<i></i><b>High</b> 2075.07<i></i><b>Low</b> 2043.98<i></i><b>Close</b> 2072.78<i></i><b>Volume</b> 2.3B<i></i><b>Chg</b> +13.04 (+0.63%)</div>
<div class="cp">&copy; StockCharts.com</div>
<div class="lg">$SPX (Monthly) 2072.78</div>
<div class="lg2">SLOPE(20) -1.31</div>
<div class="r" style="left:167.5px;top:29.15px;transform:scaleX(0.938)">STOCKS WILL NOT OVERCOME LONG TERM RESISTANCE - TECHNICALS ARE "BEARISH"!</div>
<div class="r" style="left:279.3px;top:44.3px">THE "ROUNDING TOP" REPRSETS THE "TOPPING PROCESS"</div>
<div class="r" style="left:401.2px;top:78.75px;transform:scaleX(0.9225)">THE LONG TERM BULLISH UPTREND HAS BEEN</div>
<div class="r" style="left:401.2px;top:91.05px;transform:scaleX(0.9225)">BREACHED!</div>
<div class="yr" style="left:16.4px;top:300.7px">1997</div>
<div class="yr" style="left:16.4px;top:408.3px">1997</div>
<div class="yr" style="left:49px;top:300.7px">1998</div>
<div class="yr" style="left:49px;top:408.3px">1998</div>
<div class="yr" style="left:81.6px;top:300.7px">1999</div>
<div class="yr" style="left:81.6px;top:408.3px">1999</div>
<div class="yr" style="left:114.2px;top:300.7px">2000</div>
<div class="yr" style="left:114.2px;top:408.3px">2000</div>
<div class="yr" style="left:146.8px;top:300.7px">2001</div>
<div class="yr" style="left:146.8px;top:408.3px">2001</div>
<div class="yr" style="left:179.4px;top:300.7px">2002</div>
<div class="yr" style="left:179.4px;top:408.3px">2002</div>
<div class="yr" style="left:212px;top:300.7px">2003</div>
<div class="yr" style="left:212px;top:408.3px">2003</div>
<div class="yr" style="left:244.6px;top:300.7px">2004</div>
<div class="yr" style="left:244.6px;top:408.3px">2004</div>
<div class="yr" style="left:277.2px;top:300.7px">2005</div>
<div class="yr" style="left:277.2px;top:408.3px">2005</div>
<div class="yr" style="left:309.8px;top:300.7px">2006</div>
<div class="yr" style="left:309.8px;top:408.3px">2006</div>
<div class="yr" style="left:342.4px;top:300.7px">2007</div>
<div class="yr" style="left:342.4px;top:408.3px">2007</div>
<div class="yr" style="left:375px;top:300.7px">2008</div>
<div class="yr" style="left:375px;top:408.3px">2008</div>
<div class="yr" style="left:407.6px;top:300.7px">2009</div>
<div class="yr" style="left:407.6px;top:408.3px">2009</div>
<div class="yr" style="left:440.2px;top:300.7px">2010</div>
<div class="yr" style="left:440.2px;top:408.3px">2010</div>
<div class="yr" style="left:472.8px;top:300.7px">2011</div>
<div class="yr" style="left:472.8px;top:408.3px">2011</div>
<div class="yr" style="left:505.4px;top:300.7px">2012</div>
<div class="yr" style="left:505.4px;top:408.3px">2012</div>
<div class="yr" style="left:538px;top:300.7px">2013</div>
<div class="yr" style="left:538px;top:408.3px">2013</div>
<div class="yr" style="left:570.6px;top:300.7px">2014</div>
<div class="yr" style="left:570.6px;top:408.3px">2014</div>
<div class="yr" style="left:603.2px;top:300.7px">2015</div>
<div class="yr" style="left:603.2px;top:408.3px">2015</div>
<div class="yr" style="left:635.8px;top:300.7px">2016</div>
<div class="yr" style="left:635.8px;top:408.3px">2016</div>
<div class="ax" style="top:291.34px">600</div>
<div class="ax" style="top:273.73px">700</div>
<div class="ax" style="top:256.12px">800</div>
<div class="ax" style="top:238.51px">900</div>
<div class="ax" style="top:220.9px">1000</div>
<div class="ax" style="top:203.29px">1100</div>
<div class="ax" style="top:185.68px">1200</div>
<div class="ax" style="top:168.07px">1300</div>
<div class="ax" style="top:150.46px">1400</div>
<div class="ax" style="top:132.85px">1500</div>
<div class="ax" style="top:115.24px">1600</div>
<div class="ax" style="top:97.63px">1700</div>
<div class="ax" style="top:80.02px">1800</div>
<div class="ax" style="top:62.41px">1900</div>
<div class="ax" style="top:44.8px">2000</div>
<div class="ax" style="top:27.19px">2100</div>
<div class="ax ax2" style="top:393.06px">-40</div>
<div class="ax ax2" style="top:380.92px">-30</div>
<div class="ax ax2" style="top:368.78px">-20</div>
<div class="ax ax2" style="top:356.64px">-10</div>
<div class="ax ax2" style="top:344.5px">0</div>
<div class="ax ax2" style="top:332.36px">10</div>
<div class="ax ax2" style="top:320.22px">20</div>
<div class="ax ax2" style="top:308.08px">30</div>
</body></html>
